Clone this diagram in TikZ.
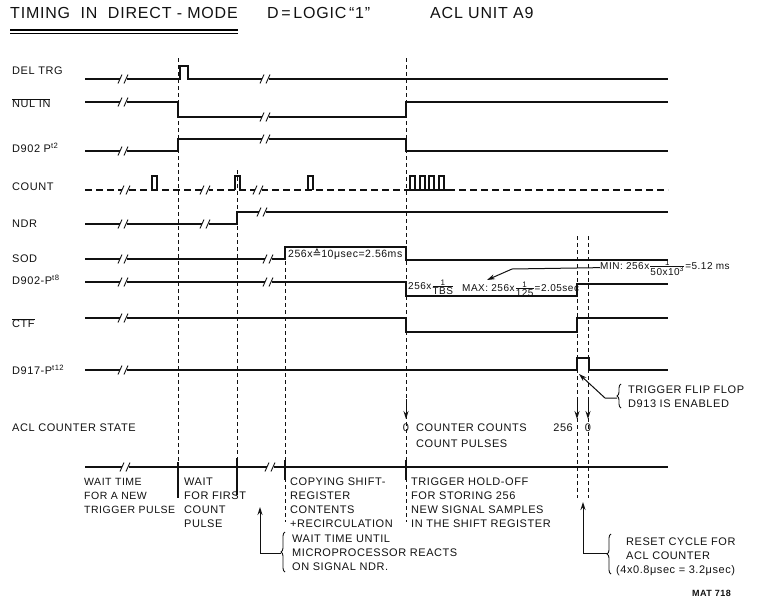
\documentclass[tikz,border=0pt]{standalone}
\usepackage{fontspec}
\setmainfont{Liberation Sans}[LetterSpace=5]
\newfontfamily\symfont{DejaVu Sans}
\usetikzlibrary{arrows.meta,calc,decorations.pathreplacing}
\definecolor{ScanInk}{HTML}{111111}
\definecolor{ScanPaper}{HTML}{FFFFFF}
\tikzset{
  every node/.style={font=\fontsize{11}{14}\selectfont, text=ScanInk, inner sep=0pt},
  signal/.style={draw=ScanInk, line width=2pt},
  countline/.style={draw=ScanInk, line width=2pt, dash pattern=on 7pt off 4pt},
  marker/.style={draw=ScanInk, line width=0.9pt, dash pattern=on 4pt off 3pt},
  tick/.style={draw=ScanInk, line width=2pt},
  leader/.style={draw=ScanInk, line width=1pt},
  pointer/.style={-{Stealth[length=8pt,width=5pt]}, draw=ScanInk, line width=1pt},
  curly/.style={draw=ScanInk, line width=0.9pt, decorate, decoration={brace, amplitude=4pt}},
  siglabel/.style={anchor=west},
  formula/.style={anchor=base west, font=\fontsize{10}{12}\selectfont},
  note/.style={anchor=north west, align=left},
  brk/.pic={
    \fill[ScanPaper] (-3.5,-2.6) rectangle (3.5,2.6);
    \draw[ScanInk, line width=0.9pt] (-5,4.5) -- (-1,-4.5) (1,4.5) -- (5,-4.5);
  },
}

\begin{document}
\begin{tikzpicture}[x=1pt,y=-1pt]
  \useasboundingbox (0,0) rectangle (757,605);
  % Heading with double underline
  \node[anchor=west, font=\fontsize{16}{18}\selectfont] (title) at (10,13) {TIMING\ \ IN\ \ DIRECT - MODE};
  \node[anchor=west, font=\fontsize{16}{18}\selectfont] (logic) at (267,13) {D\,=\,LOGIC\,``1''};
  \node[anchor=west, font=\fontsize{16}{18}\selectfont] (unit) at (430,13) {ACL UNIT A9};
  \draw[line width=1.3pt] (10,30) -- (238,30);
  \draw[line width=0.6pt] (10,33) -- (238,33);
  % Vertical time markers
  \foreach \mx/\mtop/\mbot in {178/58/467, 237/170/467, 285/247/522, 406/58/522, 577/236/498, 588/236/498}
    \draw[marker] (\mx,\mtop) -- (\mx,\mbot);
  % Signal names
  \node[siglabel] (deltrg) at (12,71) {DEL TRG};
  \node[siglabel] (nulin) at (12,103) {$\overline{\hbox{NUL IN}}$};
  \node[siglabel] (pt2) at (12,148) {D902 P\textsuperscript{t2}};
  \node[siglabel] (count) at (12,187) {COUNT};
  \node[siglabel] (ndr) at (12,224) {NDR};
  \node[siglabel] (sod) at (12,259) {SOD};
  \node[siglabel] (pt8) at (12,280) {D902-P\textsuperscript{t8}};
  \node[siglabel] (ctf) at (12,323) {$\overline{\hbox{CTF}}$};
  \node[siglabel] (pt12) at (12,370) {D917-P\textsuperscript{t12}};
  \node[siglabel] (aclstate) at (12,428) {ACL COUNTER STATE};
  % Waveforms
  \draw[signal] (85,79) -- (180,79) -- (180,66) -- (188,66) -- (188,79) -- (668,79);
  \draw[signal] (85,102) -- (178,102) -- (178,117) -- (406,117) -- (406,102) -- (668,102);
  \draw[signal] (85,151) -- (178,151) -- (178,139) -- (406,139) -- (406,151) -- (668,151);
  \draw[countline] (85,190) -- (668,190);
  \draw[signal] (410,190) -- (448,190);
  \foreach \px in {152,235,308,410,419.5,429,438.5}
    \draw[signal] (\px,190) -- (\px,176) -- ({\px+5},176) -- ({\px+5},190);
  \draw[signal] (85,224) -- (237,224) -- (237,212) -- (668,212);
  \draw[signal] (85,259) -- (285,259) -- (285,247) -- (406,247) -- (406,260) -- (668,260);
  \draw[signal] (85,282) -- (406,282) -- (406,296) -- (577,296) -- (577,284) -- (668,284);
  \draw[signal] (85,318) -- (406,318) -- (406,332) -- (577,332) -- (577,318) -- (668,318);
  \draw[signal] (85,370) -- (577,370) -- (577,358) -- (589,358) -- (589,370) -- (668,370);
  % Time axis and phase ticks
  \draw[signal] (85,467) -- (668,467);
  \foreach \tx/\ttop/\tbot in {178/462/498, 237/458/495, 285/460/480, 406/460/480}
    \draw[tick] (\tx,\ttop) -- (\tx,\tbot);
  % Break marks
  \foreach \bx/\by in {123/79, 265/79, 123/102, 265/117, 123/151, 265/139, 125/190, 205/190, 258/190,
      123/224, 205/224, 262/212, 123/259, 268/259, 123/282, 268/282, 123/318, 123/370, 125/467, 270/467}
    \pic at (\bx,\by) {brk};
  % Timing formulas
  \node[formula, font=\fontsize{10.5}{12}\selectfont] (sodtime) at (288,257.5) {256x{\symfont ≙}10μsec=2.56ms};
  \node[formula] (tbs) at (408,289) {256x$\frac{\hbox{\footnotesize 1}}{\hbox{TBS}}$};
  \node[formula] (maxtime) at (462,291) {MAX: 256x$\frac{\hbox{\footnotesize 1}}{\hbox{125}}$=2.05sec};
  \node[formula] (mintime) at (600,269) {MIN: 256x$\frac{\hbox{\footnotesize 1}}{\hbox{50x10\textsuperscript{3}}}$=5.12 ms};
  \coordinate (maxbend) at (512,269);
  \coordinate (maxtip) at (487,280);
  \draw[pointer] (mintime.west) -- (maxbend) -- (maxtip);
  % Counter state
  \foreach \ax in {406,577,588}
    \draw[pointer] (\ax,399) -- (\ax,419);
  \node (zeroa) at (406,428) {0};
  \node[anchor=north west] (counting) at (416,424) {COUNTER COUNTS};
  \node[anchor=north west] (pulses) at (416,440) {COUNT PULSES};
  \node[anchor=east] (full) at (573,428) {256};
  \node (zerob) at (588,428) {0};
  % Flip flop note
  \node[note] (ffnote) at (628,386) {TRIGGER FLIP FLOP\\D913 IS ENABLED};
  \draw[curly] (621,408) -- (621,384);
  \coordinate (ffbrace) at (617,398);
  \coordinate (fftip) at (579,374);
  \draw[pointer] (ffbrace) -- ++(-12,0) -- (fftip);
  % Phase descriptions
  \node[note, font=\fontsize{10.5}{14}\selectfont] (waitnew) at (84,478) {WAIT TIME\\FOR A NEW\\TRIGGER PULSE};
  \node[note] (waitfirst) at (184,478) {WAIT\\FOR FIRST\\COUNT\\PULSE};
  \node[note] (copying) at (290,478) {COPYING SHIFT-\\REGISTER\\CONTENTS\\+RECIRCULATION};
  \node[note] (holdoff) at (411,478) {TRIGGER HOLD-OFF\\FOR STORING 256\\NEW SIGNAL SAMPLES\\IN THE SHIFT REGISTER};
  % Lower notes with braces
  \node[note] (ndrnote) at (292,535) {WAIT TIME UNTIL\\MICROPROCESSOR REACTS\\ON SIGNAL NDR.};
  \draw[curly] (285,572) -- (285,532);
  \coordinate (ndrbrace) at (281,553);
  \coordinate (ndrtip) at (260,507);
  \draw[pointer] (ndrbrace) -| (ndrtip);
  \node[note] (resetnote) at (616,538) {\hspace*{10pt}RESET CYCLE FOR\\\hspace*{10pt}ACL COUNTER\\(4x0.8μsec = 3.2μsec)};
  \draw[curly] (611,574) -- (611,534);
  \coordinate (resetbrace) at (607,553);
  \coordinate (resettip) at (583,502);
  \draw[pointer] (resetbrace) -| (resettip);
  \node[anchor=west, font=\fontsize{9}{10}\selectfont\bfseries] (matno) at (692,593) {MAT 718};
\end{tikzpicture}
\end{document}
